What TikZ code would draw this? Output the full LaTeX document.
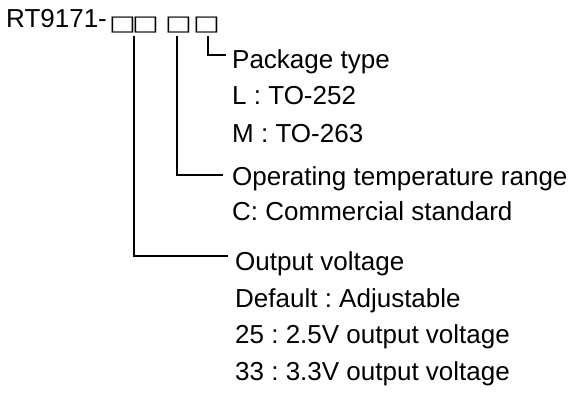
\documentclass[tikz,border=0pt]{standalone}
\usepackage{fontspec}
\setmainfont{Liberation Sans}
\newfontfamily\boxfont[FakeStretch=1.35]{DejaVu Sans Bold}
\usepackage{tikz}
\usetikzlibrary{positioning}
\frenchspacing

\begin{document}
\begin{tikzpicture}[
    x=1pt, y=-1pt,
    txt/.style  = {anchor=base west, inner sep=0pt, font=\fontsize{26}{30}\selectfont},
    digit/.style = {anchor=base west, inner sep=0pt, font=\fontsize{21}{24}\boxfont},
    lead/.style = {draw=black, line width=1.1pt},
]
    \useasboundingbox (0,0) rectangle (576,396);

    % ── Part number ──
    \node[txt] (part) at (6, 28) {RT9171-};
    \node[digit] (b1) at (109, 30.5) {□};
    \node[digit] (b2) at (132, 30.5) {□};
    \node[digit] (b3) at (165, 30.5) {□};
    \node[digit] (b4) at (193, 30.5) {□};

    % ── Package type ──
    \node[txt] (pkg)  at (232, 69)  {Package type};
    \node[txt] (pkgL) at (232, 105) {L : TO-252};
    \node[txt] (pkgM) at (232, 142) {M : TO-263};

    % ── Operating temperature ──
    \node[txt] (temp)  at (232, 185) {Operating temperature range};
    \node[txt] (tempC) at (232, 220) {C: Commercial standard};

    % ── Output voltage ──
    \node[txt] (vout)   at (235, 270) {Output voltage};
    \node[txt] (vdef)   at (235, 307) {Default : Adjustable};
    \node[txt] (v25)    at (235, 343) {25 : 2.5V output voltage};
    \node[txt] (v33)    at (235, 380) {33 : 3.3V output voltage};

    % ── Leaders ──
    \coordinate (kpkg)  at (226, 55);
    \coordinate (ktemp) at (223, 175);
    \coordinate (kvout) at (228, 256);
    \coordinate (t1) at (134, 36);
    \coordinate (t3) at (177, 36);
    \coordinate (t4) at (208, 36);

    \draw[lead] (t4) |- (kpkg);
    \draw[lead] (t3) |- (ktemp);
    \draw[lead] (t1) |- (kvout);
\end{tikzpicture}
\end{document}
